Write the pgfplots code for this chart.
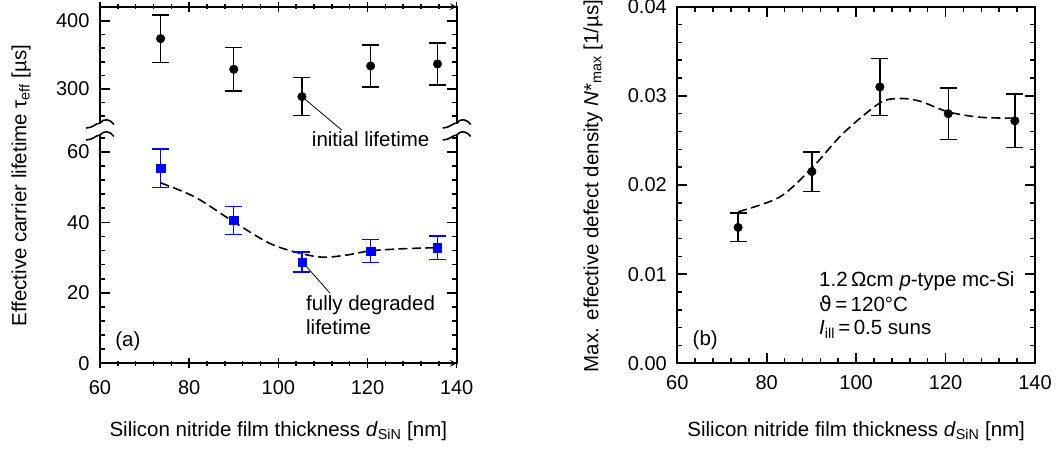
\documentclass[border=0pt]{standalone}
\usepackage{pgfplots}
\pgfplotsset{compat=1.18}
\usepackage{fontspec}
\setmainfont{Liberation Sans}
\newfontfamily\dv{DejaVu Sans}
\definecolor{myblue}{RGB}{0,0,255}
\newcommand\lbl{\fontsize{20.5}{23}\selectfont}
\newcommand\tkl{\fontsize{20}{21}\selectfont}

\pgfplotsset{
  myaxis/.style={
    scale only axis,
    xmin=60, xmax=140,
    xtick={60,80,...,140},
    minor x tick num=4,
    tick align=inside,
    major tick length=10pt,
    minor tick length=5pt,
    tick style={line width=1.6pt, black},
    axis line style={line width=1.9pt, -, line cap=rect},
    tick label style={font=\tkl},
    /pgf/number format/assume math mode=true,
    xticklabel style={yshift=-9pt},
    yticklabel style={xshift=-7pt},
    clip=false,
  },
  blackerr/.style={
    black, only marks, mark=*, mark size=4.3pt,
    error bars/.cd, y dir=both, y explicit,
    error bar style={line width=1.4pt, black},
    error mark options={rotate=90, mark size=8.5pt, line width=1.4pt, black},
  },
  blueerr/.style={
    myblue, only marks, mark=square*, mark size=4.1pt,
    error bars/.cd, y dir=both, y explicit,
    error bar style={line width=1.4pt, myblue},
    error mark options={rotate=90, mark size=8.5pt, line width=1.4pt, myblue},
  },
  fitline/.style={black, line width=1.6pt, dash pattern=on 9pt off 4.5pt, smooth, no marks},
}

\begin{document}
\begin{tikzpicture}[x=1pt,y=1pt]
\useasboundingbox (0,0) rectangle (1058,450);

% ---------- panel (a), lower part ----------
\begin{axis}[myaxis, at={(100pt,86.7pt)}, anchor=south west,
  width=356.7pt, height=228.3pt,
  ymin=0, ymax=64.77,
  ytick={0,20,40,60},
  minor ytick={4,8,12,16,24,28,32,36,44,48,52,56,64},
  axis x line=bottom, axis y line=box]
\addplot[fitline] coordinates {
  (73.6,51.2) (81.4,47.1) (89.9,40.2) (98.1,34.0) (104.9,31.2)
  (110.1,30.1) (115.3,30.7) (120.6,31.9) (128,32.5) (135.5,32.8)};
\addplot[blueerr] coordinates {
  (73.6,55.3) +- (0,5.5)
  (90.0,40.5) +- (0,4.0)
  (105.3,28.7) +- (0,2.85)
  (120.7,31.9) +- (0,3.25)
  (135.7,32.8) +- (0,3.3)};
\draw[line width=0.8pt] (axis cs:106.2,27.6) -- (axis cs:111.6,19.86);
\node[anchor=base west, inner sep=0, font=\lbl] at (axis cs:107.5,61.45) {initial lifetime};
\node[anchor=base west, inner sep=0, font=\lbl] at (axis cs:106.2,14.85) {fully degraded};
\node[anchor=base west, inner sep=0, font=\lbl] at (axis cs:106.2,8.3) {lifetime};
\node[anchor=base west, inner sep=0, font=\lbl] at (axis cs:63.4,4.9) {(a)};
\end{axis}

% ---------- panel (a), upper part ----------
\begin{axis}[myaxis, at={(100pt,327pt)}, anchor=south west,
  width=356.7pt, height=116.3pt,
  ymin=250, ymax=421,
  ytick={300,400},
  minor ytick={260,280,320,340,360,380,420},
  axis x line=top, axis y line=box, xticklabels={}]
\addplot[blackerr] coordinates {
  (73.6,374) +- (0,35)
  (90.0,329) +- (0,32)
  (105.3,288.7) +- (0,28)
  (120.7,333.8) +- (0,31)
  (135.7,336.8) +- (0,31)};
\draw[line width=0.8pt] (axis cs:106.0,284.9) -- (axis cs:114.2,239.7);
\end{axis}

% axis break symbols
\foreach \xx in {100,456.7}{
  \foreach \yy in {327,315}{
    \draw[line width=1.6pt] (\xx-14,\yy-5) .. controls (\xx-7,\yy-5) and (\xx-4,\yy) .. (\xx,\yy)
      .. controls (\xx+4,\yy+5) and (\xx+10,\yy+4) .. (\xx+14,\yy-1.5);
  }
}

% ---------- panel (b) ----------
\begin{axis}[myaxis, at={(677.3pt,86.7pt)}, anchor=south west,
  width=357.7pt, height=356.6pt,
  ymin=0, ymax=0.04,
  ytick={0,0.01,0.02,0.03,0.04},
  minor y tick num=4,
  scaled y ticks=false,
  yticklabel style={/pgf/number format/.cd, fixed, fixed zerofill, precision=2}]
\addplot[fitline] coordinates {
  (73.6,0.0170) (82.9,0.01865) (90.1,0.0219) (97.1,0.0258) (105.3,0.0292)
  (109.8,0.0297) (114.3,0.0294) (120.6,0.0282) (127.7,0.0276) (135.5,0.0275)};
\addplot[blackerr] coordinates {
  (73.6,0.01524) +- (0,0.0016)
  (90.1,0.0215) +- (0,0.0022)
  (105.3,0.0310) +- (0,0.0032)
  (120.6,0.0280) +- (0,0.0029)
  (135.5,0.0272) +- (0,0.0030)};
\node[anchor=base west, inner sep=0, font=\lbl] at (axis cs:91.7,0.00857) {1.2\,Ωcm \textit{p}-type mc-Si};
\node[anchor=base west, inner sep=0, font=\lbl] at (axis cs:91.7,0.0058) {{\dv ϑ}\,=\,120°C};
\node[anchor=base west, inner sep=0, font=\lbl] at (axis cs:91.7,0.00318) {\textit{I}\textsubscript{ill}\,=\,0.5 suns};
\node[anchor=base west, inner sep=0, font=\lbl] at (axis cs:63.4,0.0020) {(b)};
\end{axis}

% labels
\node[anchor=base, font=\lbl] at (278.3,13.3) {Silicon nitride film thickness \textit{d}\textsubscript{SiN} [nm]};
\node[anchor=base, font=\lbl] at (856.2,13.3) {Silicon nitride film thickness \textit{d}\textsubscript{SiN} [nm]};
\node[rotate=90, font=\lbl] at (21,264.3) {Effective carrier lifetime τ\textsubscript{eff} [µs]};
\node[rotate=90, font=\lbl] at (593,264) {Max. effective defect density \textit{N}*\textsubscript{max} [1/µs]};
\end{tikzpicture}
\end{document}
